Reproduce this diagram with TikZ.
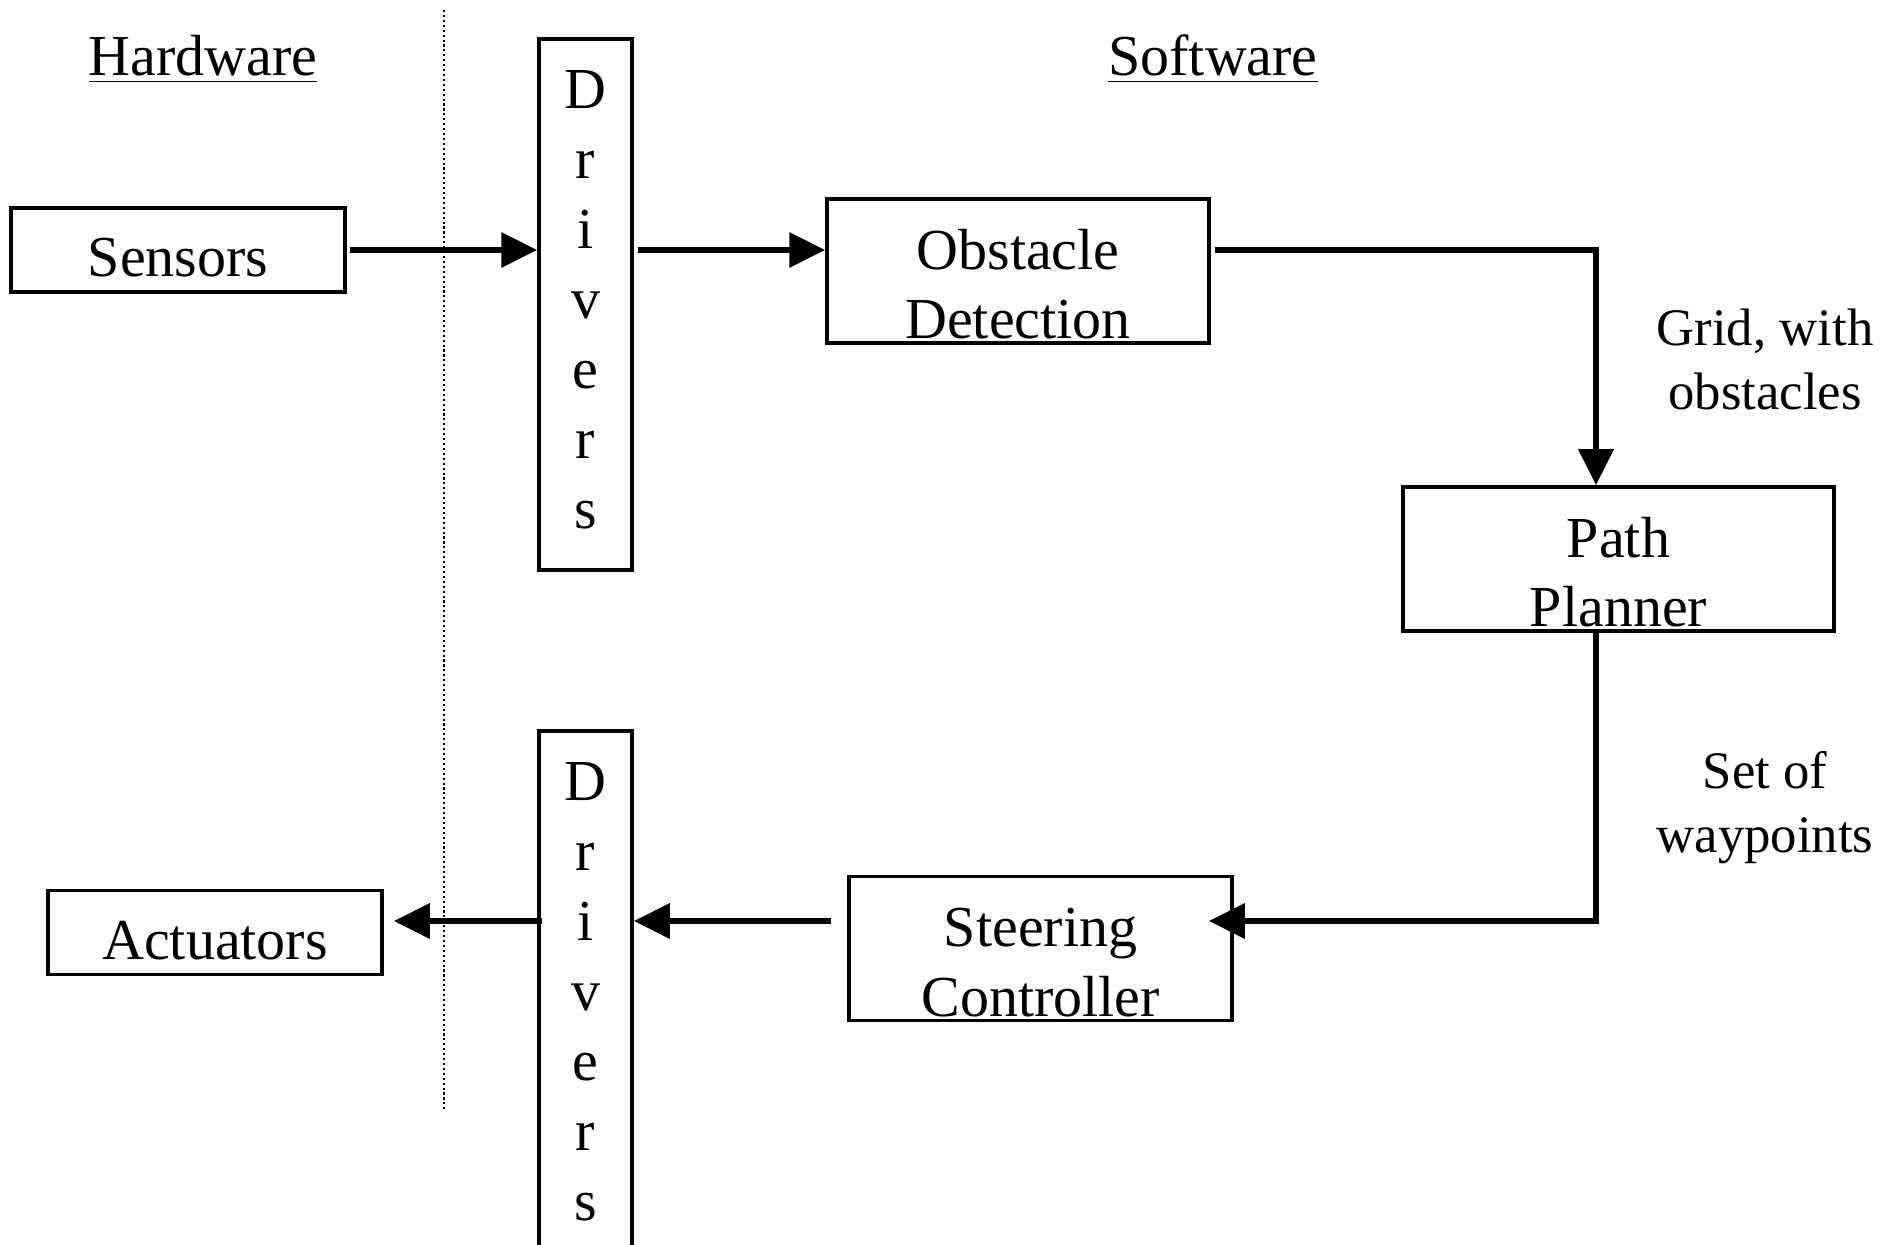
\documentclass[tikz,border=0pt]{standalone}
\usepackage{fontspec}
\setmainfont{Liberation Serif}
\usetikzlibrary{arrows.meta}
\begin{document}
\begin{tikzpicture}[line join=miter, >={Triangle[length=0.36cm,width=0.34cm]},
  box/.style={draw, line width=1pt, inner sep=0pt, align=center, font=\fontsize{16.5}{19.9}\selectfont},
  onebox/.style={box, minimum width=3.34cm, text height=0.69cm, text depth=0.15cm},
  twobox/.style={box, text height=1.40cm, text depth=0.04cm},
  drvbox/.style={box, minimum width=0.93cm, minimum height=5.31cm, text depth=0.1cm},
  conn/.style={->, line width=1.9pt},
  lbl/.style={align=center, font=\fontsize{15}{18.2}\selectfont},
  head/.style={anchor=base, font=\fontsize{16.5}{19.9}\selectfont}]
\useasboundingbox (0,0) rectangle (18.92,12.44);
% hardware / software border
\draw[line width=0.4pt, dash pattern=on 0.6pt off 0.8pt] (4.44,12.34)--(4.44,1.34);
\node[head] (hw) at (2.03,11.68) {\underline{Hardware}};
\node[head] (sw) at (12.13,11.68) {\underline{Software}};
% blocks
\node[onebox] (sensors) at (1.78,9.94) {Sensors};
\node[onebox] (act) at (2.15,3.115) {Actuators};
\node[drvbox] (drvtop) at (5.855,9.395) {D\\r\\i\\v\\e\\r\\s};
\node[drvbox] (drvbot) at (5.855,2.475) {D\\r\\i\\v\\e\\r\\s};
\node[twobox, minimum width=3.82cm] (obst) at (10.18,9.73) {Obstacle\\Detection};
\node[twobox, minimum width=4.31cm] (plan) at (16.185,6.85) {Path\\Planner};
\node[twobox, minimum width=3.83cm] (steer) at (10.405,2.955) {Steering\\Controller};
\node[lbl] (grid) at (17.65,8.85) {Grid, with\\obstacles};
\node[lbl] (wp) at (17.65,4.36) {Set of\\waypoints};
\coordinate (c1) at (15.96,9.94);
\coordinate (c2) at (15.96,3.23);
% data flow
\draw[conn] ([xshift=0.03cm]sensors.east) -- (sensors.east -| drvtop.west);
\draw[conn] ([xshift=0.04cm]sensors.east -| drvtop.east) -- (sensors.east -| obst.west);
\draw[conn] ([xshift=0.04cm]sensors.east -| obst.east) -- (c1) -- (c1 |- plan.north);
\draw[conn] (c1 |- plan.south) -- (c2) -- ([xshift=-0.25cm]c2 -| steer.east);
\draw[conn] ([xshift=-0.16cm]c2 -| steer.west) -- (c2 -| drvbot.east);
\draw[conn] ([xshift=0.05cm]c2 -| drvbot.west) -- ([xshift=0.1cm]c2 -| act.east);
\end{tikzpicture}
\end{document}
